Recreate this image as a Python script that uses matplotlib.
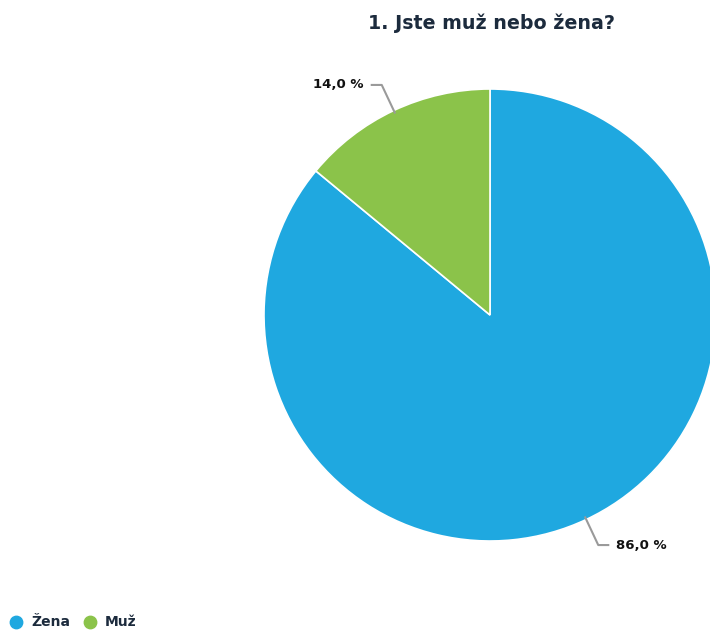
import numpy as np
import matplotlib
matplotlib.use("Agg")
import matplotlib.pyplot as plt

categories = ["Žena", "Muž"]
shares = [86.0, 14.0]
colors = ["#1fa8e0", "#8bc34a"]
title = "1. Jste muž nebo žena?"

W, H = 710, 635
fig = plt.figure(figsize=(W / 100, H / 100), dpi=100)
ax = fig.add_axes([0, 0, 1, 1])

cx, cy, r = 490, H - 315, 226
start = 90
wedges, _ = ax.pie(shares, colors=colors, startangle=start, counterclock=False,
                   center=(cx, cy), radius=r,
                   wedgeprops=dict(edgecolor="white", linewidth=1.2))
ax.set_xlim(0, W)
ax.set_ylim(0, H)
ax.set_aspect("equal")
ax.axis("off")

# leader lines with percentage labels
cum = start
for val in shares:
    mid = cum - val * 360 / 100 / 2
    cum -= val * 360 / 100
    a = np.deg2rad(mid)
    x0, y0 = cx + r * 0.99 * np.cos(a), cy + r * 0.99 * np.sin(a)
    x1, y1 = cx + r * 1.125 * np.cos(a), cy + r * 1.125 * np.sin(a)
    side = 1 if np.cos(a) >= 0 else -1
    x2 = x1 + side * 10
    ax.plot([x0, x1, x2], [y0, y1, y1], color="#9a9a9a", lw=1.5,
            solid_joinstyle="round", clip_on=False)
    ax.text(x2 + side * 8, y1, f"{val:.1f} %".replace(".", ","),
            ha="left" if side > 0 else "right", va="center",
            fontsize=9.5, fontweight="bold", color="#111111")

ax.text(491, H - 23, title, ha="center", va="center",
        fontsize=13.7, fontweight="bold", color="#1c2b3d")

# legend along the bottom left
lx, ly = 16, H - 622
for name, col in zip(categories, colors):
    ax.scatter([lx], [ly], s=80, color=col, marker="o", clip_on=False)
    t = ax.text(lx + 15, ly, name, ha="left", va="center",
                fontsize=10, fontweight="bold", color="#1c2b3d")
    fig.canvas.draw()
    bb = t.get_window_extent()
    lx = bb.x1 + 20

fig.savefig("out.png", dpi=100)
